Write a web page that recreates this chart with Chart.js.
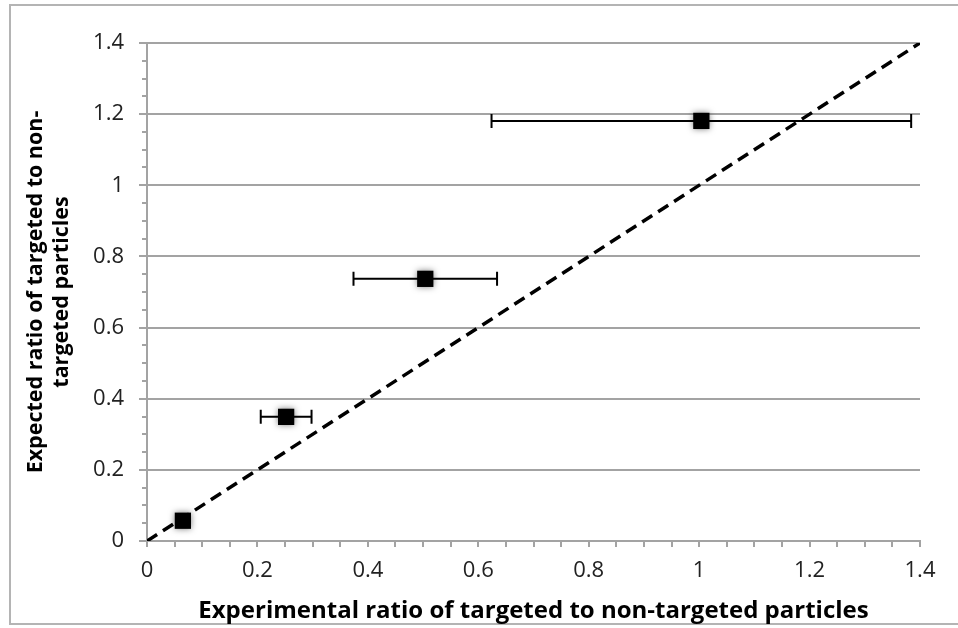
<!DOCTYPE html>
<html>
<head>
<meta charset="utf-8">
<script src="https://cdn.jsdelivr.net/npm/chart.js@4/dist/chart.umd.min.js"></script>
<style>
  html, body { margin: 0; padding: 0; background: #ffffff; }
  #wrap { width: 958px; height: 628px; position: relative; }
</style>
</head>
<body>
<div id="wrap"><canvas id="chart" width="958" height="628"></canvas></div>
<script>
// Measured ratios (x) against expected ratios (y), with x error half-widths
const experimentalRatio = [0.065, 0.252, 0.504, 1.004];
const expectedRatio     = [0.057, 0.349, 0.737, 1.181];
const experimentalError = [0.0, 0.046, 0.13, 0.38];

// y = x reference line end points
const identityX = [0, 1.4];
const identityY = [0, 1.4];

const axisMin = 0;
const axisMax = 1.4;
const majorStep = 0.2;
const minorStep = 0.05;

const xTitle = 'Experimental ratio of targeted to non-targeted particles';
const yTitle = ['Expected ratio of targeted to non-', 'targeted particles'];

const gridGray = '#a3a3a3';
const fontFamily = '"Open Sans", Lato, sans-serif';

const points = experimentalRatio.map((x, i) => ({ x: x, y: expectedRatio[i] }));
const identity = identityX.map((x, i) => ({ x: x, y: identityY[i] }));

// Outer frame and white page
const framePlugin = {
  id: 'frame',
  beforeDraw(chart) {
    const ctx = chart.ctx;
    ctx.save();
    ctx.fillStyle = '#ffffff';
    ctx.fillRect(0, 0, chart.width, chart.height);
    ctx.strokeStyle = '#b4b4b4';
    ctx.lineWidth = 2;
    ctx.strokeRect(10, 5, chart.width + 10, chart.height - 9);
    ctx.restore();
  }
};

// Minor tick marks on both axes
const minorTickPlugin = {
  id: 'minorTicks',
  afterDraw(chart) {
    const ctx = chart.ctx;
    const xs = chart.scales.x, ys = chart.scales.y;
    const area = chart.chartArea;
    ctx.save();
    ctx.strokeStyle = gridGray;
    ctx.lineWidth = 2;
    const n = Math.round((axisMax - axisMin) / minorStep);
    const ratio = Math.round(majorStep / minorStep);
    for (let i = 0; i <= n; i++) {
      const v = axisMin + i * minorStep;
      if (i % ratio !== 0) {
        const py = Math.round(ys.getPixelForValue(v));
        ctx.beginPath();
        ctx.moveTo(area.left - 5, py);
        ctx.lineTo(area.left, py);
        ctx.stroke();
      }
      const px = Math.round(xs.getPixelForValue(v));
      ctx.beginPath();
      ctx.moveTo(px, area.bottom);
      ctx.lineTo(px, area.bottom + 6);
      ctx.stroke();
    }
    ctx.restore();
  }
};

// Horizontal error bars under the markers, soft shadow on the markers
const errorBarPlugin = {
  id: 'errorBars',
  beforeDatasetDraw(chart, args) {
    if (args.index !== 0) return;
    const ctx = chart.ctx;
    const xs = chart.scales.x, ys = chart.scales.y;
    ctx.save();
    ctx.strokeStyle = '#000000';
    ctx.lineWidth = 2;
    experimentalRatio.forEach((x, i) => {
      const err = experimentalError[i];
      if (!err) return;
      const y = ys.getPixelForValue(expectedRatio[i]);
      const x0 = xs.getPixelForValue(x - err);
      const x1 = xs.getPixelForValue(x + err);
      ctx.beginPath();
      ctx.moveTo(x0, y);
      ctx.lineTo(x1, y);
      ctx.moveTo(x0, y - 7);
      ctx.lineTo(x0, y + 7);
      ctx.moveTo(x1, y - 7);
      ctx.lineTo(x1, y + 7);
      ctx.stroke();
    });
    ctx.restore();
    ctx.save();
    ctx.shadowColor = 'rgba(0,0,0,0.5)';
    ctx.shadowBlur = 6;
  },
  afterDatasetDraw(chart, args) {
    if (args.index !== 0) return;
    chart.ctx.restore();
  }
};

new Chart(document.getElementById('chart'), {
  type: 'scatter',
  data: {
    datasets: [
      {
        label: 'Particles',
        data: points,
        order: 0,
        pointStyle: 'rect',
        pointRadius: 11.5,
        pointBackgroundColor: '#000000',
        pointBorderColor: '#000000',
        pointBorderWidth: 0,
        showLine: false
      },
      {
        label: 'y = x',
        data: identity,
        order: 1,
        showLine: true,
        borderColor: '#000000',
        borderWidth: 3.5,
        borderDash: [12, 7],
        pointRadius: 0,
        fill: false
      }
    ]
  },
  options: {
    responsive: false,
    devicePixelRatio: 1,
    animation: false,
    layout: { padding: { top: 43, left: 14, right: 38, bottom: 2 } },
    plugins: {
      legend: { display: false },
      tooltip: { enabled: false }
    },
    scales: {
      x: {
        type: 'linear',
        min: axisMin,
        max: axisMax,
        afterFit(scale) { scale.height = 85; },
        border: { display: true, color: gridGray, width: 2 },
        grid: { drawOnChartArea: false, drawTicks: true, tickLength: 6, color: gridGray, lineWidth: 2 },
        ticks: {
          stepSize: majorStep,
          padding: 11,
          color: '#222222',
          font: { family: fontFamily, size: 22 },
          callback: (v) => Number(v.toFixed(1)).toString()
        },
        title: {
          display: true,
          text: xTitle,
          color: '#000000',
          padding: { top: 0, bottom: 0 },
          font: { family: fontFamily, size: 24, weight: 'bold' }
        }
      },
      y: {
        type: 'linear',
        min: axisMin,
        max: axisMax,
        afterFit(scale) { scale.width = 133; },
        border: { display: true, color: gridGray, width: 2 },
        grid: { drawOnChartArea: true, drawTicks: true, tickLength: 8, color: gridGray, lineWidth: 2 },
        ticks: {
          stepSize: majorStep,
          padding: 15,
          color: '#222222',
          font: { family: fontFamily, size: 22 },
          callback: (v) => Number(v.toFixed(1)).toString()
        },
        title: {
          display: true,
          text: yTitle,
          color: '#000000',
          padding: { top: 9, bottom: 0 },
          font: { family: fontFamily, size: 21.5, weight: 'bold' }
        }
      }
    }
  },
  plugins: [framePlugin, minorTickPlugin, errorBarPlugin]
});
</script>
</body>
</html>
